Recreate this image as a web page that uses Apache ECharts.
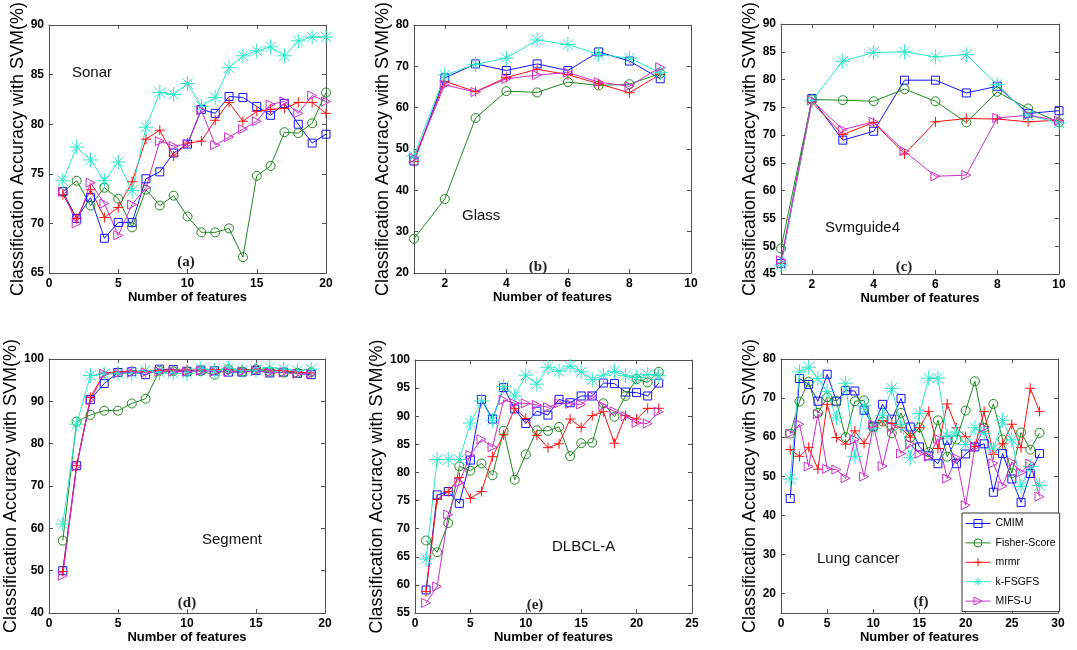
<!DOCTYPE html>
<html>
<head>
<meta charset="utf-8">
<title>Classification Accuracy with SVM</title>
<script src="https://cdn.jsdelivr.net/npm/echarts@6/dist/echarts.min.js"></script>
<style>
  html, body { margin: 0; padding: 0; background: #fff; }
  #main { width: 1077px; height: 650px; }
</style>
</head>
<body>
<div id="main"></div>
<script>
// methods, same order as the legend
var methods = ['CMIM', 'Fisher-Score', 'mrmr', 'k-FSGFS', 'MIFS-U'];

// (a) Sonar
var sonarCMIM   = [73.2,70.5,72.6,68.5,70.1,70.1,74.5,75.2,77.1,78.0,81.5,81.1,82.8,82.7,81.8,80.9,82.1,80.0,78.1,79.0];
var sonarFisher = [73.2,74.3,71.8,73.6,72.5,69.6,73.4,71.8,72.8,70.7,69.1,69.1,69.5,66.6,74.8,75.8,79.2,79.1,80.1,83.2];
var sonarMrmr   = [72.9,70.5,73.4,70.6,71.6,74.2,78.5,79.4,76.8,78.1,78.3,80.4,82.2,80.3,81.3,81.5,81.6,82.2,82.2,81.1];
var sonarKF     = [74.3,77.7,76.4,74.3,76.2,73.3,79.7,83.2,83.0,84.1,81.8,82.7,85.7,86.9,87.4,87.8,86.9,88.4,88.8,88.8];
var sonarMIFS   = [73.2,70.0,74.1,72.0,68.8,71.9,73.6,78.3,77.8,78.0,81.4,77.9,78.7,79.5,80.3,82.0,82.3,81.1,82.9,82.3];

// (b) Glass
var glassCMIM   = [47.1,67.2,70.6,69.0,70.6,69.0,73.5,71.3,67.0];
var glassFisher = [28.3,37.9,57.5,64.0,63.7,66.2,65.4,65.7,68.3];
var glassMrmr   = [47.0,66.4,63.9,67.3,69.3,68.0,65.8,63.6,68.1];
var glassKF     = [48.3,67.9,70.5,72.0,76.4,75.3,72.9,72.0,68.5];
var glassMIFS   = [47.8,65.5,63.8,67.0,67.9,68.5,66.2,65.2,69.8];

// (c) Svmguide4
var svmCMIM   = [46.9,76.6,69.1,70.7,79.9,79.9,77.6,78.8,73.9,74.4];
var svmFisher = [49.6,76.4,76.3,76.1,78.3,76.1,72.3,77.8,74.8,72.3];
var svmMrmr   = [46.9,75.9,70.1,72.3,66.6,72.4,73.0,72.9,72.4,72.7];
var svmKF     = [46.6,76.2,83.3,84.9,85.0,84.1,84.5,79.1,73.6,72.2];
var svmMIFS   = [47.5,76.3,71.0,72.4,67.1,62.6,62.8,73.1,73.6,72.6];

// (d) Segment
var segCMIM   = [50.0,74.8,90.4,94.2,96.8,97.0,96.3,97.6,97.5,97.1,97.4,97.2,96.9,96.9,97.3,96.7,96.9,96.6,96.3];
var segFisher = [57.1,85.2,86.8,87.8,87.8,89.5,90.6,97.2,97.1,97.0,97.1,96.3,97.6,97.0,97.6,97.0,96.8,96.7,96.9];
var segMrmr   = [49.8,74.8,90.9,96.7,97.0,97.2,97.0,97.4,97.4,97.4,97.4,97.5,97.5,97.4,97.6,97.4,97.2,96.9,96.7];
var segKF     = [61.0,84.6,96.1,96.5,96.6,96.6,97.3,96.8,96.6,96.6,97.7,97.3,97.7,97.3,97.4,98.0,97.6,97.3,97.6];
var segMIFS   = [48.8,74.6,90.3,96.5,96.6,96.8,96.8,97.0,97.0,97.0,97.2,97.0,97.0,97.0,97.2,96.8,96.8,96.5,96.5];

// (e) DLBCL-A
var dlCMIM   = [59.1,76.0,76.6,74.5,82.2,93.0,89.5,95.1,91.3,88.7,90.9,90.2,93.0,92.4,93.6,93.6,95.9,95.8,94.3,94.2,93.6,95.9];
var dlFisher = [67.9,65.8,71.0,81.1,80.3,81.6,79.5,87.4,78.7,83.2,87.5,87.4,88.1,82.9,85.2,85.3,92.3,89.9,93.6,96.6,96.0,97.9];
var dlMrmr   = [58.8,75.2,76.6,79.1,75.4,76.6,82.8,86.7,91.4,89.6,86.6,84.4,85.1,89.5,88.0,90.1,90.8,85.2,90.1,89.5,91.4,91.4];
var dlKF     = [64.6,82.3,82.3,82.3,88.8,92.7,89.3,95.3,93.6,97.3,95.7,98.7,98.0,98.9,97.9,96.5,97.3,98.0,97.2,96.9,97.4,97.2];
var dlMIFS   = [56.8,59.7,72.5,78.2,83.1,85.9,84.5,92.9,92.3,92.3,92.0,91.6,92.3,92.2,92.1,93.6,91.8,90.9,90.0,88.8,88.7,90.8];

// (f) Lung cancer
var lungCMIM   = [44.3,75.0,73.5,69.2,76.1,69.2,71.9,71.8,66.9,62.8,68.4,64.6,69.9,62.6,57.5,55.2,53.2,59.2,53.2,55.7,57.5,58.3,45.9,55.8,49.3,43.3,50.7,55.8];
var lungFisher = [60.9,69.1,74.2,66.2,70.2,69.2,60.0,69.2,69.4,62.6,64.0,61.0,66.2,59.9,62.5,56.2,64.3,55.0,59.4,66.8,74.3,62.4,68.5,59.4,50.8,61.2,56.8,61.1];
var lungMrmr   = [56.8,55.1,57.4,51.8,68.4,59.9,58.2,61.6,58.4,62.6,64.2,63.5,62.4,60.0,62.4,66.6,57.1,68.5,62.4,60.1,57.6,66.6,55.6,58.3,63.3,57.3,72.5,66.6];
var lungKF     = [49.3,76.7,77.9,75.0,71.7,64.9,73.8,55.0,68.0,62.3,65.6,72.5,63.2,54.7,66.0,75.1,75.1,60.2,61.3,58.1,62.4,61.0,57.0,64.3,59.3,47.4,52.5,47.6];
var lungMIFS   = [60.9,63.3,52.5,65.9,51.9,51.7,49.5,59.4,49.9,63.2,52.6,62.6,55.8,58.2,55.8,55.0,59.6,49.4,54.7,42.6,57.5,62.4,53.3,47.5,53.6,51.0,53.2,44.8];

// tick values where the axis min is not on the tick grid
var ticksOneToTen = [2, 4, 6, 8, 10];
var ticksLungY = [20, 30, 40, 50, 60, 70, 80];

var colors = ['#1515ff', '#218a21', '#ff1010', '#2ee8c8', '#cc30cc'];
var symbols = [
  'rect',
  'circle',
  'path://M5,0L5,10M0,5L10,5',
  'path://M5,0L5,10M0,5L10,5M1.5,1.5L8.5,8.5M8.5,1.5L1.5,8.5',
  'path://M0,0L10,5L0,10Z'
];
var symbolSizes = [8, 9, 10, 15, 9];

var panels = [
  { label: 'Sonar', tag: '(a)', box: [49, 22, 277, 251], x: [0, 20, 5], y: [65, 90, 5],
    data: [sonarCMIM, sonarFisher, sonarMrmr, sonarKF, sonarMIFS],
    labelPos: [72, 73], tagPos: [186, 262], xGap: 16 },
  { label: 'Glass', tag: '(b)', box: [414, 22, 277, 251], x: [1, 10, null, ticksOneToTen], y: [20, 80, 10],
    data: [glassCMIM, glassFisher, glassMrmr, glassKF, glassMIFS],
    labelPos: [462, 216], tagPos: [538, 267], xGap: 16 },
  { label: 'Svmguide4', tag: '(c)', box: [781, 22, 278, 252], x: [1, 10, null, ticksOneToTen], y: [45, 90, 5],
    data: [svmCMIM, svmFisher, svmMrmr, svmKF, svmMIFS],
    labelPos: [825, 228], tagPos: [904, 267], xGap: 16 },
  { label: 'Segment', tag: '(d)', box: [49, 359, 276, 254], x: [0, 20, 5], y: [40, 100, 10],
    data: [segCMIM, segFisher, segMrmr, segKF, segMIFS],
    labelPos: [202, 540], tagPos: [187, 603], xGap: 18 },
  { label: 'DLBCL-A', tag: '(e)', box: [415, 360, 277, 253], x: [0, 25, 5], y: [55, 100, 5],
    data: [dlCMIM, dlFisher, dlMrmr, dlKF, dlMIFS],
    labelPos: [552, 547], tagPos: [535, 605], xGap: 18 },
  { label: 'Lung cancer', tag: '(f)', box: [781, 359, 277, 254], x: [0, 30, 5], y: [15, 80, null, ticksLungY],
    data: [lungCMIM, lungFisher, lungMrmr, lungKF, lungMIFS],
    labelPos: [817, 559], tagPos: [921, 602], xGap: 18 }
];

var axisColor = '#505050';
var sans = '"Liberation Sans", Arial, sans-serif';

function makeAxis(kind, gridIndex, range, primary, extra) {
  var ax = {
    type: 'value',
    gridIndex: gridIndex,
    min: range[0],
    max: range[1],
    position: kind === 'x' ? (primary ? 'bottom' : 'top') : (primary ? 'left' : 'right'),
    axisLine: { show: true, onZero: false, lineStyle: { color: axisColor, width: 1 } },
    axisTick: { show: true, inside: true, length: 4, lineStyle: { color: axisColor } },
    axisLabel: { show: primary, color: '#000', fontWeight: 'bold', fontSize: 12, fontFamily: sans, margin: 5 },
    splitLine: { show: false }
  };
  if (range[3]) {
    ax.axisTick.customValues = range[3];
    ax.axisLabel.customValues = range[3];
  } else {
    ax.interval = range[2];
  }
  return Object.assign(ax, extra || {});
}

var grids = [], xAxes = [], yAxes = [], series = [], graphics = [];

panels.forEach(function (p, i) {
  grids.push({ left: p.box[0], top: p.box[1], width: p.box[2], height: p.box[3] });

  xAxes.push(makeAxis('x', i, p.x, true, {
    name: 'Number of features', nameLocation: 'middle', nameGap: p.xGap,
    nameTextStyle: { color: '#000', fontWeight: 'bold', fontSize: 13, fontFamily: sans }
  }));
  xAxes.push(makeAxis('x', i, p.x, false));
  yAxes.push(makeAxis('y', i, p.y, true, {
    name: 'Classification Accuracy with SVM(%)', nameLocation: 'middle', nameGap: 16,
    nameTextStyle: { color: '#000', fontSize: 18, fontFamily: sans }
  }));
  yAxes.push(makeAxis('y', i, p.y, false));

  p.data.forEach(function (vals, j) {
    series.push({
      type: 'line',
      name: methods[j],
      xAxisIndex: 2 * i,
      yAxisIndex: 2 * i,
      data: vals.map(function (v, k) { return [k + 1, v]; }),
      symbol: symbols[j],
      symbolSize: symbolSizes[j],
      showAllSymbol: true,
      lineStyle: { color: colors[j], width: 1 },
      itemStyle: { color: 'rgba(255,255,255,0)', borderColor: colors[j], borderWidth: 1 },
      emphasis: { disabled: true },
      animation: false
    });
  });

  graphics.push({
    type: 'text', x: p.labelPos[0], y: p.labelPos[1],
    style: { text: p.label, fontSize: 15, fontFamily: sans, fill: '#111', align: 'left', verticalAlign: 'middle' }
  });
  graphics.push({
    type: 'text', x: p.tagPos[0], y: p.tagPos[1],
    style: { text: p.tag, fontSize: 15, fontWeight: 'bold', fontFamily: '"Liberation Serif", "DejaVu Serif", serif',
             fill: '#222', align: 'center', verticalAlign: 'middle' }
  });
});

var chart = echarts.init(document.getElementById('main'));
chart.setOption({
  backgroundColor: '#fff',
  animation: false,
  grid: grids,
  xAxis: xAxes,
  yAxis: yAxes,
  series: series,
  graphic: graphics,
  legend: {
    data: methods,
    orient: 'vertical',
    left: 962,
    top: 513,
    padding: [5, 4, 5, 3],
    itemWidth: 25,
    itemHeight: 10,
    itemGap: 8.4,
    backgroundColor: '#fff',
    borderColor: '#333',
    borderWidth: 1,
    borderRadius: 0,
    selectedMode: false,
    lineStyle: { width: 1 },
    itemStyle: { borderWidth: 1 },
    textStyle: { color: '#000', fontSize: 10.5, fontFamily: sans }
  }
});
</script>
</body>
</html>
